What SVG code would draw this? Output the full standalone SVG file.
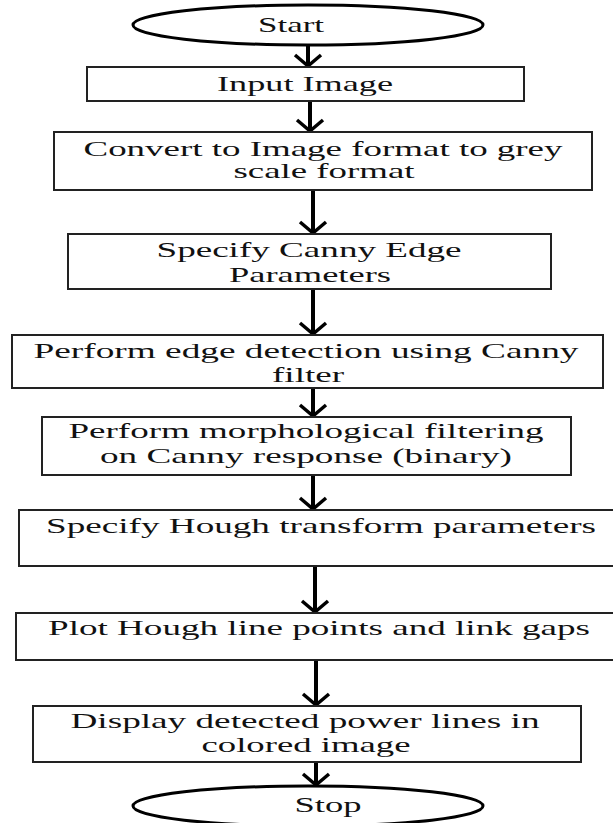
<svg xmlns="http://www.w3.org/2000/svg" width="613" height="823" viewBox="0 0 613 823">
<style>
.box{fill:#fff;stroke:#222;stroke-width:2}
.term{fill:#fff;stroke:#000;stroke-width:3}
.t{font-family:"Liberation Serif","Times New Roman",serif;font-size:21px;fill:#111;text-anchor:middle}
.c{stroke:#000;stroke-width:4;fill:none}
</style>
<defs>
<marker id="ah" markerUnits="userSpaceOnUse" viewBox="-16 -16 20 32" refX="0" refY="0" markerWidth="20" markerHeight="32" orient="auto" overflow="visible">
<path d="M-11,-13 L0,0 L-11,13" fill="none" stroke="#000" stroke-width="3.5"/>
</marker>
</defs>
<rect width="613" height="823" fill="#fff"/>
<g id="connectors">
<line class="c" x1="308" y1="45" x2="308" y2="66" marker-end="url(#ah)"/>
<line class="c" x1="310" y1="101" x2="310" y2="131" marker-end="url(#ah)"/>
<line class="c" x1="313" y1="190" x2="313" y2="233" marker-end="url(#ah)"/>
<line class="c" x1="313" y1="289" x2="313" y2="334" marker-end="url(#ah)"/>
<line class="c" x1="313" y1="388" x2="313" y2="416" marker-end="url(#ah)"/>
<line class="c" x1="313" y1="475" x2="313" y2="509" marker-end="url(#ah)"/>
<line class="c" x1="315" y1="566" x2="315" y2="612" marker-end="url(#ah)"/>
<line class="c" x1="316" y1="660" x2="316" y2="705" marker-end="url(#ah)"/>
<line class="c" x1="316" y1="762" x2="316" y2="785" marker-end="url(#ah)"/>
</g>
<g id="start">
<ellipse class="term" cx="308" cy="25" rx="175" ry="20"/>
<text class="t" x="291" y="32" textLength="66" lengthAdjust="spacingAndGlyphs">Start</text>
</g>
<g id="input">
<rect class="box" x="87" y="67" width="437" height="34"/>
<text class="t" x="305" y="91" textLength="176" lengthAdjust="spacingAndGlyphs">Input Image</text>
</g>
<g id="convert">
<rect class="box" x="54" y="132" width="538" height="58"/>
<text class="t" x="323" y="156" textLength="479" lengthAdjust="spacingAndGlyphs">Convert to Image format to grey</text>
<text class="t" x="324" y="178" textLength="181" lengthAdjust="spacingAndGlyphs">scale format</text>
</g>
<g id="canny-params">
<rect class="box" x="68" y="234" width="483" height="55"/>
<text class="t" x="309" y="257" textLength="305" lengthAdjust="spacingAndGlyphs">Specify Canny Edge</text>
<text class="t" x="310" y="282" textLength="162" lengthAdjust="spacingAndGlyphs">Parameters</text>
</g>
<g id="edge-detect">
<rect class="box" x="12" y="335" width="591" height="53"/>
<text class="t" x="306" y="358" textLength="545" lengthAdjust="spacingAndGlyphs">Perform edge detection using Canny</text>
<text class="t" x="308" y="382" textLength="72" lengthAdjust="spacingAndGlyphs">filter</text>
</g>
<g id="morph">
<rect class="box" x="42" y="417" width="529" height="58"/>
<text class="t" x="306" y="438" textLength="475" lengthAdjust="spacingAndGlyphs">Perform morphological filtering</text>
<text class="t" x="306" y="463" textLength="412" lengthAdjust="spacingAndGlyphs">on Canny response (binary)</text>
</g>
<g id="hough-params">
<rect class="box" x="19" y="510" width="600" height="56"/>
<text class="t" x="321" y="533" textLength="550" lengthAdjust="spacingAndGlyphs">Specify Hough transform parameters</text>
</g>
<g id="plot">
<rect class="box" x="16" y="613" width="603" height="47"/>
<text class="t" x="319" y="635" textLength="542" lengthAdjust="spacingAndGlyphs">Plot Hough line points and link gaps</text>
</g>
<g id="display">
<rect class="box" x="33" y="706" width="548" height="56"/>
<text class="t" x="305" y="728" textLength="469" lengthAdjust="spacingAndGlyphs">Display detected power lines in</text>
<text class="t" x="306" y="752" textLength="209" lengthAdjust="spacingAndGlyphs">colored image</text>
</g>
<g id="stop">
<ellipse class="term" cx="308" cy="806" rx="175" ry="20"/>
<text class="t" x="328" y="812" textLength="67" lengthAdjust="spacingAndGlyphs">Stop</text>
</g>
</svg>
